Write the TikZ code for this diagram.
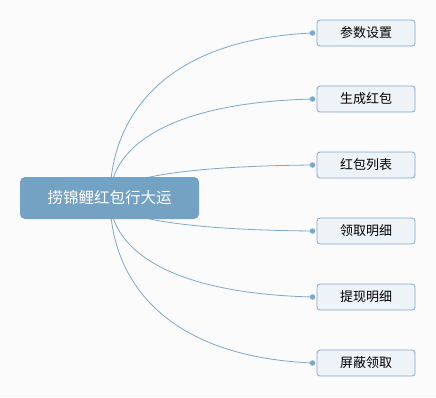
\documentclass[tikz,border=0pt]{standalone}
\usepackage{fontspec}
\newfontfamily\cjk{Noto Sans CJK SC}
\definecolor{bg}{HTML}{FBFBFB}
\definecolor{mainfill}{HTML}{74A2C2}
\definecolor{linec}{HTML}{7DA7C7}
\definecolor{childfill}{HTML}{EEF3F7}
\definecolor{childdraw}{HTML}{7EA8C9}
\begin{document}
\begin{tikzpicture}[x=1pt,y=-1pt,
  rootbox/.style={fill=mainfill,rounded corners=5pt,minimum width=179pt,minimum height=42pt,inner sep=0pt,text=white,font=\cjk\fontsize{15.5}{18}\selectfont},
  childbox/.style={fill=childfill,draw=childdraw,line width=0.8pt,rounded corners=3pt,minimum width=98pt,minimum height=26pt,inner sep=0pt,text=black,font=\cjk\fontsize{13}{15}\selectfont},
  dotc/.style={circle,fill=linec,inner sep=0pt,minimum size=5.5pt},
  link/.style={draw=linec,line width=0.8pt}]
\fill[bg] (0,0) rectangle (436,397);
\useasboundingbox (0,0) rectangle (436,397);
\coordinate (c) at (110,198);
\foreach \n/\y/\t in {a/33/参数设置,b/99/生成红包,c3/165/红包列表,d/231/领取明细,e/297/提现明细,f/363/屏蔽领取}{
  \node[childbox] (\n) at (366,\y) {\t};
  \node[dotc] (\n dot) at (312.5,\y) {};
  \pgfmathsetmacro{\pa}{\y+0.53*(198-\y)}
  \pgfmathsetmacro{\pb}{\y+0.04*(198-\y)}
  \draw[link] (c) .. controls (110,\pa) and (160,\pb) .. (\n dot.center);
}
\node[rootbox] (root) at (109.5,198) {捞锦鲤红包行大运};
\end{tikzpicture}
\end{document}
